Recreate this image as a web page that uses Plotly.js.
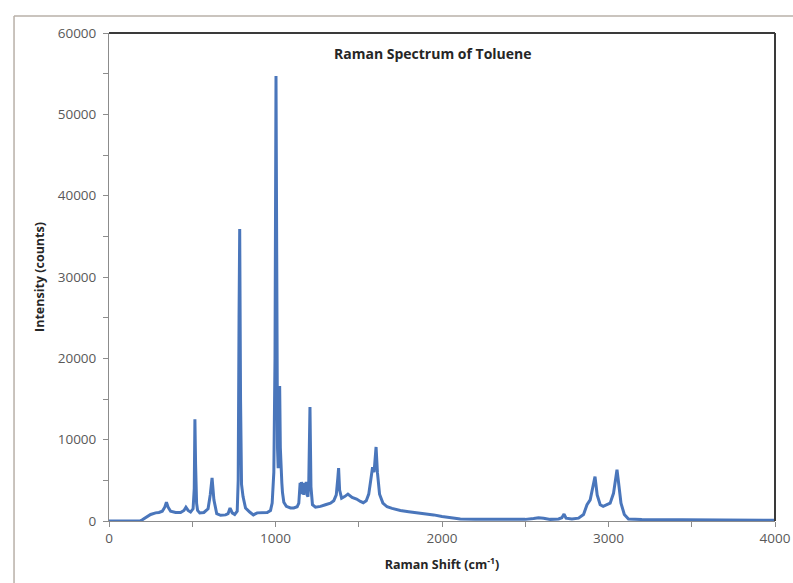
<!DOCTYPE html>
<html>
<head>
<meta charset="utf-8">
<script src="https://cdn.plot.ly/plotly-3.0.1.min.js"></script>
<style>
  html, body { margin: 0; padding: 0; background: #ffffff; }
  #chart { width: 793px; height: 583px; }
</style>
</head>
<body>
<div id="chart"></div>
<script>
// Raman shift (cm^-1)
const ramanShift = [
  0, 100, 185, 200, 220, 250, 280, 300, 320, 335, 345, 355, 370, 400, 430, 450, 462, 475, 490, 505,
  512, 516, 520, 526, 532, 545, 570, 595, 608, 619, 630, 647, 670, 700, 715, 727, 740, 755, 770, 776,
  781, 785, 790, 796, 805, 820, 845, 867, 890, 920, 950, 970, 980, 990, 997, 1003, 1008, 1012, 1016, 1020,
  1025, 1029, 1033, 1038, 1042, 1050, 1065, 1090, 1110, 1130, 1140, 1148, 1152, 1156, 1160, 1165, 1170, 1175, 1180, 1185,
  1190, 1195, 1200, 1207, 1213, 1222, 1240, 1270, 1300, 1330, 1350, 1365, 1374, 1379, 1385, 1397, 1415, 1435, 1460, 1487,
  1510, 1527, 1545, 1560, 1572, 1583, 1592, 1598, 1604, 1612, 1625, 1645, 1670, 1700, 1750, 1800, 1870, 1950, 2000, 2050,
  2110, 2200, 2300, 2350, 2400, 2450, 2500, 2550, 2580, 2610, 2650, 2700, 2720, 2733, 2745, 2780, 2820, 2850, 2871, 2890,
  2905, 2919, 2932, 2950, 2968, 2990, 3010, 3030, 3043, 3051, 3060, 3075, 3095, 3120, 3200, 3400, 3600, 3800, 4000
];
// Intensity (counts)
const intensity = [
  0, 0, 0, 150, 450, 800, 1000, 1050, 1200, 1700, 2300, 1700, 1200, 1050, 1050, 1300, 1700, 1300, 1100, 1500,
  4000, 12500, 7000, 2200, 1300, 1000, 1050, 1500, 3200, 5300, 2600, 900, 700, 750, 900, 1600, 1000, 800, 1200, 5000,
  25000, 35900, 15000, 4500, 3000, 1600, 1100, 750, 1000, 1000, 1050, 1300, 2200, 6000, 20000, 54700, 22000, 9000, 6500, 12000,
  16600, 9000, 5500, 4700, 3500, 2300, 1800, 1600, 1600, 1750, 2200, 4700, 3300, 4800, 3500, 4600, 3200, 4700, 3400, 4800,
  3200, 3000, 5000, 14000, 4200, 2000, 1700, 1800, 2000, 2200, 2500, 3200, 5200, 6500, 3800, 2800, 3000, 3300, 2900, 2700,
  2400, 2250, 2500, 3300, 5000, 6600, 6000, 7500, 9100, 6000, 3300, 2200, 1750, 1550, 1300, 1150, 1000, 750, 550, 400,
  250, 200, 180, 250, 200, 180, 200, 300, 400, 350, 200, 250, 400, 850, 350, 250, 350, 800, 2000, 2600,
  4200, 5450, 3200, 2000, 1800, 2000, 2200, 3400, 5200, 6300, 4800, 2200, 800, 250, 180, 150, 120, 100, 80
];

const xTickVals = [0, 1000, 2000, 3000, 4000];
const yTickVals = [0, 10000, 20000, 30000, 40000, 50000, 60000];

const trace = {
  x: ramanShift,
  y: intensity,
  type: 'scatter',
  mode: 'lines',
  line: { color: '#4a76bb', width: 3 },
  hoverinfo: 'skip'
};

const font = 'Open Sans, Liberation Sans, Arial, sans-serif';

const layout = {
  width: 793,
  height: 583,
  margin: { l: 109, r: 18, t: 33, b: 62 },
  paper_bgcolor: '#ffffff',
  plot_bgcolor: '#ffffff',
  showlegend: false,
  font: { family: font, color: '#595959', size: 13 },
  xaxis: {
    range: [0, 4000],
    tickvals: xTickVals,
    ticktext: xTickVals.map(String),
    ticks: 'outside',
    ticklen: 5,
    tickcolor: '#8c8c8c',
    showline: true,
    linecolor: '#8c8c8c',
    linewidth: 1,
    showgrid: false,
    zeroline: false,
    minor: { dtick: 500, ticks: 'outside', ticklen: 5, tickcolor: '#8c8c8c', showgrid: false },
    tickfont: { family: font, size: 13.5, color: '#595959' },
    title: { text: 'Raman Shift (cm<sup>-1</sup>)', font: { family: font, size: 12.5, color: '#262626', weight: 'bold' }, standoff: 14 }
  },
  yaxis: {
    range: [0, 60000],
    tickvals: yTickVals,
    ticktext: yTickVals.map(String),
    ticks: 'outside',
    ticklen: 5,
    tickcolor: '#8c8c8c',
    showline: true,
    linecolor: '#8c8c8c',
    linewidth: 1,
    showgrid: false,
    zeroline: false,
    ticklabelstandoff: 4,
    minor: { dtick: 5000, ticks: 'outside', ticklen: 5, tickcolor: '#8c8c8c', showgrid: false },
    tickfont: { family: font, size: 13.5, color: '#595959' },
    title: { text: 'Intensity (counts)', font: { family: font, size: 12.5, color: '#262626', weight: 'bold' }, standoff: 10 }
  },
  annotations: [{
    text: '<b>Raman Spectrum of Toluene</b>',
    xref: 'paper', yref: 'paper',
    x: 0.487, y: 0.959,
    xanchor: 'center', yanchor: 'middle',
    showarrow: false,
    font: { family: font, size: 14, color: '#262626' }
  }],
  shapes: [
    { type: 'line', xref: 'paper', yref: 'paper', x0: 0, x1: 1, y0: 1, y1: 1, line: { color: '#3a3a3a', width: 2 } },
    { type: 'line', xref: 'paper', yref: 'paper', x0: 1, x1: 1, y0: 0, y1: 1, line: { color: '#3a3a3a', width: 2 } },
    { type: 'line', xref: 'paper', yref: 'paper', x0: -0.1426, x1: 1.1, y0: 1.0348, y1: 1.0348, line: { color: '#b8b0a8', width: 1.5 } },
    { type: 'line', xref: 'paper', yref: 'paper', x0: -0.1426, x1: -0.1426, y0: -0.2, y1: 1.0348, line: { color: '#b8b0a8', width: 1.5 } }
  ]
};

Plotly.newPlot('chart', [trace], layout, { displayModeBar: false, staticPlot: true });
</script>
</body>
</html>
